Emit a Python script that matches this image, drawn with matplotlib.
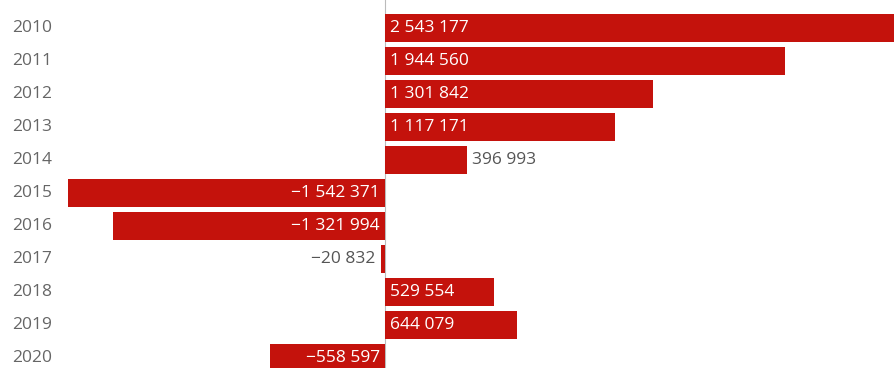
import matplotlib.pyplot as plt
from matplotlib import transforms

plt.rcParams['font.family'] = ['Open Sans', 'DejaVu Sans']

years = ['2010', '2011', '2012', '2013', '2014', '2015', '2016', '2017', '2018', '2019', '2020']
values = [2543177, 1944560, 1301842, 1117171, 396993, -1542371, -1321994, -20832, 529554, 644079, -558597]

bar_color = '#c4120c'
W, H = 895, 368
fig = plt.figure(figsize=(W / 100, H / 100), dpi=100)

# axes spans from px 60 to right edge; zero sits at px 385
left_px = 60
ax = fig.add_axes([left_px / W, 0, 1 - left_px / W, 1])
px_per_unit = 400 / 1944560
ax.set_xlim(-(385 - left_px) / px_per_unit, (W - 385) / px_per_unit)
ax.set_ylim((H - 28) / 33, -28 / 33)

pos = list(range(len(years)))
ax.barh(pos, values, height=0.85, color=bar_color, edgecolor='none')
ax.axvline(0, color='#bbbbbb', linewidth=0.8, zorder=0)


def fmt(v):
    s = f'{abs(v):,}'.replace(',', ' ')
    return ('\u2212' if v < 0 else '') + s


fs = 12.5
pad = 5 / px_per_unit
for i, v in enumerate(values):
    inside = abs(v) > 450000
    if inside:
        x = pad if v > 0 else -pad
        ha = 'left' if v > 0 else 'right'
        col = 'white'
    else:
        x = v + pad if v > 0 else v - pad
        ha = 'left' if v > 0 else 'right'
        col = '#555555'
    ax.text(x, i, fmt(v), ha=ha, va='center', color=col, fontsize=fs)

trans = transforms.blended_transform_factory(fig.transFigure, ax.transData)
for i, y in enumerate(years):
    ax.text(12 / W, i, y, transform=trans, ha='left', va='center',
            color='#666666', fontsize=fs)

ax.axis('off')
fig.savefig('out.png', dpi=100)
